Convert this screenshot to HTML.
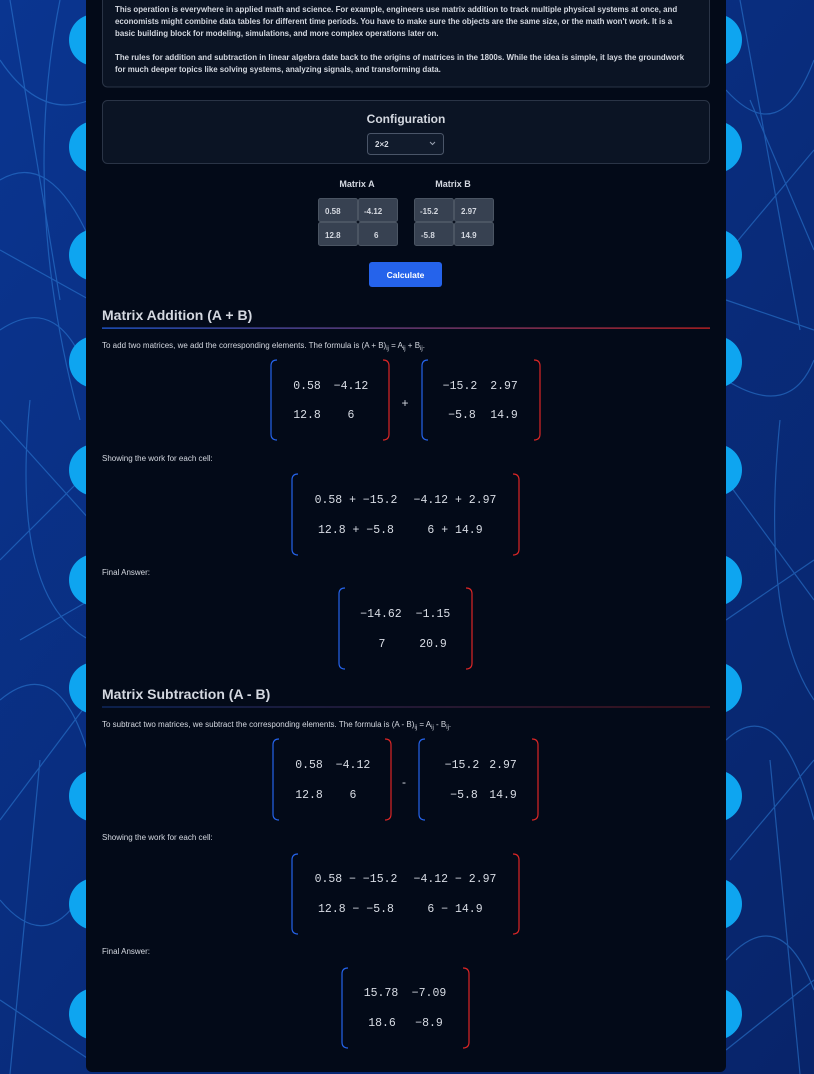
<!DOCTYPE html>
<html><head><meta charset="utf-8"><style>
html,body{margin:0;padding:0;width:814px;height:1074px;overflow:hidden;background:#0a2c72}
svg{display:block}
.t{font-family:"Liberation Sans",sans-serif;fill:#d4d8e0}
.m{font-family:"Liberation Mono",monospace;font-size:11.5px;fill:#d8dce4;text-anchor:middle}
</style></head><body>
<svg width="814" height="1074" viewBox="0 0 814 1074" xmlns="http://www.w3.org/2000/svg">
<defs>
<linearGradient id="bg" x1="0" y1="0" x2="1" y2="1"><stop offset="0" stop-color="#0a3590"/><stop offset="1" stop-color="#08246a"/></linearGradient>
<linearGradient id="hl" x1="0" x2="1"><stop offset="0" stop-color="#2563eb"/><stop offset="1" stop-color="#dc2626"/></linearGradient>
</defs>
<rect width="814" height="1074" fill="url(#bg)"/>
<g stroke="#2f7fd8" stroke-width="1.2" opacity="0.55" fill="none">
<path d="M0 60 Q40 120 90 100"/><path d="M0 180 Q50 150 90 240"/><path d="M10 0 L60 300"/><path d="M0 330 Q60 290 90 380"/>
<path d="M0 420 L90 520"/><path d="M30 400 Q10 600 90 640"/><path d="M0 700 Q60 650 90 760"/><path d="M0 820 L90 700"/>
<path d="M40 760 L10 1074"/><path d="M0 900 Q50 960 90 880"/><path d="M0 1000 L90 1060"/><path d="M60 0 Q20 200 80 420"/>
<path d="M0 250 L90 300"/><path d="M0 560 L90 470"/><path d="M20 640 L90 600"/>
<path d="M726 90 Q780 150 814 60"/><path d="M730 250 L814 150"/><path d="M740 0 L800 330"/><path d="M726 380 Q790 420 814 360"/>
<path d="M726 480 L814 600"/><path d="M780 420 Q760 620 814 700"/><path d="M726 740 Q780 690 814 820"/><path d="M730 860 L814 760"/>
<path d="M770 760 L800 1074"/><path d="M726 960 Q780 900 814 990"/><path d="M726 1050 L814 980"/><path d="M750 100 L814 250"/>
<path d="M726 300 L814 330"/><path d="M726 620 L814 560"/>
</g>
<g fill="#0ea5f0">
<circle cx="95" cy="40" r="26"/><circle cx="95" cy="147" r="26"/><circle cx="95" cy="255" r="26"/><circle cx="95" cy="362" r="26"/><circle cx="95" cy="470" r="26"/><circle cx="95" cy="580" r="26"/><circle cx="95" cy="688" r="26"/><circle cx="95" cy="796" r="26"/><circle cx="95" cy="904" r="26"/><circle cx="95" cy="1014" r="26"/>
<circle cx="716" cy="40" r="26"/><circle cx="716" cy="147" r="26"/><circle cx="716" cy="255" r="26"/><circle cx="716" cy="362" r="26"/><circle cx="716" cy="470" r="26"/><circle cx="716" cy="580" r="26"/><circle cx="716" cy="688" r="26"/><circle cx="716" cy="796" r="26"/><circle cx="716" cy="904" r="26"/><circle cx="716" cy="1014" r="26"/>
</g>
<rect x="86" y="-10" width="640" height="1082" rx="6" fill="#030a18"/>

<rect x="102.5" y="-10" width="607" height="97" rx="5" fill="#0b1424" stroke="#2a3446"/>
<g class="t" font-size="7.9" font-weight="bold">
<text x="115" y="12">This operation is everywhere in applied math and science. For example, engineers use matrix addition to track multiple physical systems at once, and</text>
<text x="115" y="24">economists might combine data tables for different time periods. You have to make sure the objects are the same size, or the math won't work. It is a</text>
<text x="115" y="36">basic building block for modeling, simulations, and more complex operations later on.</text>
<text x="115" y="60">The rules for addition and subtraction in linear algebra date back to the origins of matrices in the 1800s. While the idea is simple, it lays the groundwork</text>
<text x="115" y="72">for much deeper topics like solving systems, analyzing signals, and transforming data.</text>
</g>

<rect x="102.5" y="100.5" width="607" height="63" rx="5" fill="#0b1424" stroke="#2a3446"/>
<text class="t" x="406" y="123" font-size="12" font-weight="bold" text-anchor="middle">Configuration</text>
<rect x="367.5" y="133.5" width="76" height="21" rx="3" fill="#111b2c" stroke="#4a5568"/>
<text class="t" x="375" y="147" font-size="8" font-weight="bold">2×2</text>
<path d="M430 142 L432.5 144.5 L435 142" stroke="#9aa3b2" fill="none"/>

<g class="t" font-size="9" font-weight="bold" text-anchor="middle"><text x="357" y="187">Matrix A</text><text x="453" y="187">Matrix B</text></g>
<g fill="#374151" stroke="#4b5563"><rect x="318.5" y="198.5" width="39" height="23" rx="2"/><rect x="358.5" y="198.5" width="39" height="23" rx="2"/><rect x="318.5" y="222.5" width="39" height="23" rx="2"/><rect x="358.5" y="222.5" width="39" height="23" rx="2"/>
<rect x="414.5" y="198.5" width="39" height="23" rx="2"/><rect x="454.5" y="198.5" width="39" height="23" rx="2"/><rect x="414.5" y="222.5" width="39" height="23" rx="2"/><rect x="454.5" y="222.5" width="39" height="23" rx="2"/></g>
<g class="t" font-size="8" font-weight="bold" fill="#e5e7eb"><text x="325" y="214">0.58</text><text x="364" y="214">-4.12</text><text x="325" y="238">12.8</text><text x="374" y="238">6</text>
<text x="420" y="214">-15.2</text><text x="461" y="214">2.97</text><text x="421" y="238">-5.8</text><text x="461" y="238">14.9</text></g>
<rect x="369" y="262" width="73" height="25" rx="3" fill="#2563eb"/>
<text x="405.5" y="278" font-family="Liberation Sans,sans-serif" font-size="8.5" font-weight="bold" fill="#fff" text-anchor="middle">Calculate</text>

<text class="t" x="102" y="320" font-size="14" font-weight="bold" fill="#e5e7eb">Matrix Addition (A + B)</text>
<rect x="102" y="327.5" width="608" height="1.2" fill="url(#hl)"/>
<text class="t" x="102" y="348" font-size="8">To add two matrices, we add the corresponding elements. The formula is (A + B)<tspan font-size="6" dy="2">ij</tspan><tspan dy="-2"> = A</tspan><tspan font-size="6" dy="2">ij</tspan><tspan dy="-2"> + B</tspan><tspan font-size="6" dy="2">ij</tspan><tspan dy="-2">.</tspan></text>

<g fill="none" stroke-width="1.2">
<g stroke="#2563eb">
<path d="M277 360 Q271 360 271 366 V434 Q271 440 277 440"/><path d="M428 360 Q422 360 422 366 V434 Q422 440 428 440"/>
<path d="M298 474 Q292 474 292 480 V549 Q292 555 298 555"/><path d="M345 588 Q339 588 339 594 V663 Q339 669 345 669"/>
<path d="M279 739 Q273 739 273 745 V814 Q273 820 279 820"/><path d="M425 739 Q419 739 419 745 V814 Q419 820 425 820"/>
<path d="M298 854 Q292 854 292 860 V928 Q292 934 298 934"/><path d="M348 968 Q342 968 342 974 V1042 Q342 1048 348 1048"/>
</g>
<g stroke="#dc2626">
<path d="M383 360 Q389 360 389 366 V434 Q389 440 383 440"/><path d="M534 360 Q540 360 540 366 V434 Q540 440 534 440"/>
<path d="M513 474 Q519 474 519 480 V549 Q519 555 513 555"/><path d="M466 588 Q472 588 472 594 V663 Q472 669 466 669"/>
<path d="M385 739 Q391 739 391 745 V814 Q391 820 385 820"/><path d="M532 739 Q538 739 538 745 V814 Q538 820 532 820"/>
<path d="M513 854 Q519 854 519 860 V928 Q519 934 513 934"/><path d="M463 968 Q469 968 469 974 V1042 Q469 1048 463 1048"/>
</g></g>

<g class="m">
<text x="307" y="389">0.58</text><text x="351" y="389">−4.12</text><text x="307" y="418">12.8</text><text x="351" y="418">6</text>
<text x="460" y="389">−15.2</text><text x="504" y="389">2.97</text><text x="462" y="418">−5.8</text><text x="504" y="418">14.9</text>
<text x="356" y="503">0.58 + −15.2</text><text x="455" y="503">−4.12 + 2.97</text><text x="356" y="533">12.8 + −5.8</text><text x="455" y="533">6 + 14.9</text>
<text x="381" y="617">−14.62</text><text x="433" y="617">−1.15</text><text x="382" y="647">7</text><text x="433" y="647">20.9</text>
<text x="309" y="768">0.58</text><text x="353" y="768">−4.12</text><text x="309" y="798">12.8</text><text x="353" y="798">6</text>
<text x="462" y="768">−15.2</text><text x="503" y="768">2.97</text><text x="464" y="798">−5.8</text><text x="503" y="798">14.9</text>
<text x="356" y="882">0.58 − −15.2</text><text x="455" y="882">−4.12 − 2.97</text><text x="356" y="912">12.8 − −5.8</text><text x="455" y="912">6 − 14.9</text>
<text x="381" y="996">15.78</text><text x="429" y="996">−7.09</text><text x="382" y="1026">18.6</text><text x="429" y="1026">−8.9</text>
</g>
<g class="t" font-size="12" fill="#9ca3af" text-anchor="middle"><text x="405" y="407">+</text><text x="404" y="786">-</text></g>

<g class="t" font-size="8"><text x="102" y="461">Showing the work for each cell:</text><text x="102" y="575">Final Answer:</text>
<text x="102" y="840">Showing the work for each cell:</text><text x="102" y="954">Final Answer:</text></g>

<text class="t" x="102" y="699" font-size="14" font-weight="bold" fill="#e5e7eb">Matrix Subtraction (A - B)</text>
<rect x="102" y="706.5" width="608" height="1" fill="url(#hl)" opacity="0.5"/>
<text class="t" x="102" y="727" font-size="8">To subtract two matrices, we subtract the corresponding elements. The formula is (A - B)<tspan font-size="6" dy="2">ij</tspan><tspan dy="-2"> = A</tspan><tspan font-size="6" dy="2">ij</tspan><tspan dy="-2"> - B</tspan><tspan font-size="6" dy="2">ij</tspan><tspan dy="-2">.</tspan></text>
</svg>
</body></html>
